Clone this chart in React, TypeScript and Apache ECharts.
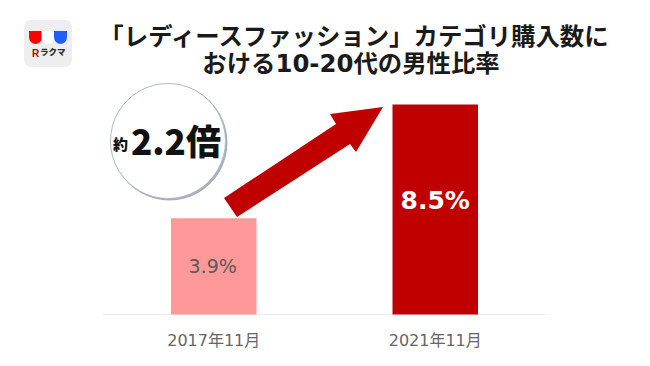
import React, { useEffect, useRef } from "react";
import * as echarts from "echarts";

const categories = ["2017年11月", "2021年11月"];
const values = [3.9, 8.5];
const valueLabels = ["3.9%", "8.5%"];
const titleLine1 = "「レディースファッション」カテゴリ購入数に";
const titleLine2 = "おける10-20代の男性比率";
const FONT = '"DejaVu Sans", "Noto Sans CJK JP", sans-serif';
const CJK = '"Noto Sans CJK JP", sans-serif';

echarts.graphic.registerShape(
  "cupShape",
  echarts.graphic.extendPath("M0 0 H13 V6 A6.5 7 0 0 1 0 6 Z", {})
);

export default function App() {
  const ref = useRef<HTMLDivElement>(null);
  useEffect(() => {
    const chart = echarts.init(ref.current!, null, { renderer: "svg" });
    chart.setOption({
      animation: false,
      backgroundColor: "#ffffff",
      grid: { left: 103, right: 104, top: 67.5, bottom: 51.5 },
      xAxis: {
        type: "category",
        data: categories,
        axisLine: { lineStyle: { color: "#eeeeee", width: 1 } },
        axisTick: { show: false },
        axisLabel: { margin: 18, fontFamily: FONT, fontSize: 16, color: "#666666" },
      },
      yAxis: { type: "value", min: 0, max: 10, show: false },
      series: [
        {
          type: "bar",
          barWidth: 85.5,
          data: [
            {
              value: values[0],
              itemStyle: { color: "#ff9999" },
              label: { show: true, position: "inside", formatter: valueLabels[0], fontFamily: FONT, fontSize: 19, color: "#595959", offset: [-1, 0] },
            },
            {
              value: values[1],
              itemStyle: { color: "#c00000" },
              label: {
                show: true,
                position: "inside",
                formatter: valueLabels[1],
                fontFamily: FONT,
                fontSize: 25,
                fontWeight: "bold",
                color: "#ffffff",
                offset: [0, -9],
              },
            },
          ],
        },
      ],
      graphic: [
        { type: "text", x: 354, y: 34, style: { text: titleLine1, font: `bold 24.4px ${CJK}`, fill: "#1a1a1a", align: "center", verticalAlign: "middle" } },
        { type: "text", x: 351, y: 63, style: { text: titleLine2, font: `bold 24.4px ${FONT}`, fill: "#1a1a1a", align: "center", verticalAlign: "middle" } },
        { type: "rect", shape: { x: 24, y: 20, width: 48, height: 47, r: 7 }, style: { fill: "#eeeeee" } },
        { type: "cupShape", x: 29, y: 31, style: { fill: "#ff0000" } },
        { type: "cupShape", x: 41.5, y: 31, style: { fill: "#ffffff" } },
        { type: "cupShape", x: 54, y: 31, style: { fill: "#1f5fff" } },
        { type: "text", x: 32, y: 48, style: { text: "R", font: 'bold 10px "Liberation Sans"', fill: "#bf0000" } },
        { type: "text", x: 40, y: 47, style: { text: "ラクマ", font: `900 8.5px ${CJK}`, fill: "#333333" } },
        {
          type: "polygon",
          shape: { points: [[224, 198], [336, 124], [330, 114], [383, 107], [356, 152], [350, 144], [237, 217]] },
          style: { fill: "#c00000" },
        },
        { type: "circle", shape: { cx: 169.5, cy: 142.5, r: 58 }, style: { fill: "#a5b0bc" } },
        { type: "circle", shape: { cx: 168, cy: 141, r: 57.5 }, style: { fill: "#ffffff", stroke: "#adb9ca", lineWidth: 1 } },
        { type: "text", x: 113, y: 143, style: { text: "約", font: `900 15px ${CJK}`, fill: "#111111", verticalAlign: "middle" } },
        { type: "text", x: 131, y: 139, style: { text: "2.2倍", font: `900 35px ${CJK}`, fill: "#111111", verticalAlign: "middle" } },
      ],
    });
    return () => chart.dispose();
  }, []);
  return <div ref={ref} style={{ position: "absolute", left: 0, top: 0, width: 650, height: 366 }} />;
}
